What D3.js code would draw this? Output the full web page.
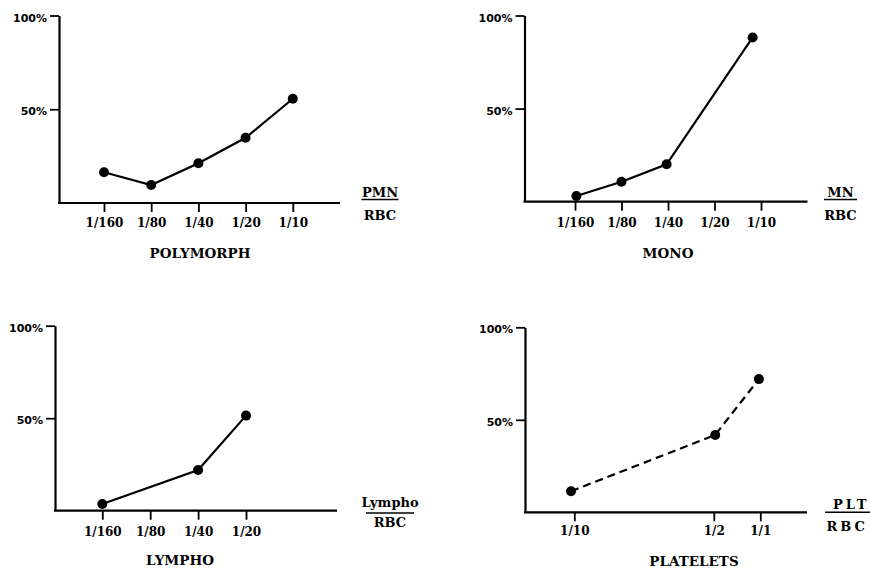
<!DOCTYPE html>
<html>
<head>
<meta charset="utf-8">
<script src="https://cdn.jsdelivr.net/npm/d3@7"></script>
<style>
  html, body { margin: 0; padding: 0; background: #fff; }
  svg text { font-family: "DejaVu Serif", "Liberation Serif", serif; font-weight: bold; fill: #000; }
</style>
</head>
<body>
<svg id="chart" width="870" height="568"></svg>
<script>
// ---- data ----
const yTickValues = [50, 100];
const yTickLabels = ["50%", "100%"];

const polyTicks = ["1/160", "1/80", "1/40", "1/20", "1/10"];
const polyTickPos = [0, 1, 2, 3, 4];
const polyX = [0, 1, 2, 3, 4];
const polyY = [16.4, 9.6, 21.2, 34.8, 55.6];

const monoTicks = ["1/160", "1/80", "1/40", "1/20", "1/10"];
const monoTickPos = [0, 1, 2, 3, 4];
const monoX = [0.03, 1, 1.97, 3.82];
const monoY = [3.1, 10.7, 20.1, 88.2];

const lymphoTicks = ["1/160", "1/80", "1/40", "1/20"];
const lymphoTickPos = [0, 1, 2, 3];
const lymphoX = [0, 2, 3];
const lymphoY = [3.6, 22.0, 51.4];

const pltTicks = ["1/10", "1/2", "1/1"];
const pltTickPos = [0, 3, 4];
const pltX = [-0.07, 3.03, 3.97];
const pltY = [11.4, 41.8, 72.0];

const titles = ["POLYMORPH", "MONO", "LYMPHO", "PLATELETS"];
const numerators = ["PMN", "MN", "Lympho", "PLT"];
const denominator = "RBC";

// ---- layout (positions / styles only) ----
const layout = [
  { axisX: 59,    top: 15.5,  base: 203,   x0: 104,   step: 47.2, axisLen: 281,
    tickLabelY: 227, titleX: 200, titleY: 258, fracX: 380, numY: 197, lineY: 199.5, denY: 219.5, lineHalf: 18.5, spacing: 0, anchor: "middle" },
  { axisX: 524.5, top: 15.5,  base: 201.7, x0: 575,   step: 46.5, axisLen: 283,
    tickLabelY: 227, titleX: 668, titleY: 257.5, fracX: 840.5, numY: 197, lineY: 199.5, denY: 219.5, lineHalf: 16.5, spacing: 0, anchor: "middle" },
  { axisX: 55,    top: 325.7, base: 510.7, x0: 102.3, step: 47.9, axisLen: 282,
    tickLabelY: 536, titleX: 180, titleY: 565, fracX: 390, numY: 506.5, lineY: 513, denY: 526.7, lineHalf: 24, spacing: 0, anchor: "middle" },
  { axisX: 525,   top: 327.3, base: 512.3, x0: 574.3, step: 46.5, axisLen: 282,
    tickLabelY: 535.5, titleX: 694, titleY: 565.5, fracX: 833, numY: 509.3, lineY: 512.3, denY: 530.5, lineHalf: 0, spacing: 3, anchor: "start", lineX1: 825, lineX2: 880, denX: 826.5 }
];

const panels = [
  { ticks: polyTicks, tickPos: polyTickPos, xs: polyX, ys: polyY, dashed: false },
  { ticks: monoTicks, tickPos: monoTickPos, xs: monoX, ys: monoY, dashed: false },
  { ticks: lymphoTicks, tickPos: lymphoTickPos, xs: lymphoX, ys: lymphoY, dashed: false },
  { ticks: pltTicks, tickPos: pltTickPos, xs: pltX, ys: pltY, dashed: true }
];

const svg = d3.select("#chart");

panels.forEach((p, i) => {
  const L = layout[i];
  const g = svg.append("g");

  const x = d3.scaleLinear().domain([0, 1]).range([L.x0, L.x0 + L.step]);
  const y = d3.scaleLinear().domain([0, 100]).range([L.base, L.top]);

  // y axis
  const yAxis = d3.axisLeft(y)
    .tickValues(yTickValues)
    .tickFormat((d, k) => yTickLabels[k])
    .tickSize(9).tickSizeOuter(0).tickPadding(3);
  const ya = g.append("g").attr("transform", `translate(${L.axisX},0)`).call(yAxis);
  ya.select(".domain").attr("stroke", "#000").attr("stroke-width", 2.2);
  ya.selectAll(".tick line").attr("stroke", "#000").attr("stroke-width", 1.8);
  ya.selectAll(".tick text")
    .attr("font-family", null).attr("font-size", 11).attr("dy", "0.5em")
    .style("font-family", "'DejaVu Sans', sans-serif").style("font-weight", "bold");

  // x axis (ticks via d3 axis, baseline drawn as a separate line)
  const xAxis = d3.axisBottom(x)
    .tickValues(p.tickPos)
    .tickFormat((d, k) => p.ticks[k])
    .tickSize(9).tickSizeOuter(0);
  const xa = g.append("g").attr("transform", `translate(0,${L.base})`).call(xAxis);
  xa.select(".domain").remove();
  xa.selectAll(".tick line").attr("stroke", "#000").attr("stroke-width", 1.8);
  xa.selectAll(".tick text")
    .attr("font-family", null).attr("font-size", 12)
    .attr("y", L.tickLabelY - L.base).attr("dy", 0);
  g.append("line")
    .attr("x1", L.axisX - 1).attr("x2", L.axisX + L.axisLen)
    .attr("y1", L.base).attr("y2", L.base)
    .attr("stroke", "#000").attr("stroke-width", 2.2);

  // data line
  const pts = p.xs.map((v, k) => [v, p.ys[k]]);
  const line = d3.line().x(d => x(d[0])).y(d => y(d[1]));
  g.append("path")
    .datum(pts)
    .attr("d", line)
    .attr("fill", "none")
    .attr("stroke", "#000")
    .attr("stroke-width", 2.2)
    .attr("stroke-dasharray", p.dashed ? "8,5" : null);

  g.selectAll("circle.pt")
    .data(pts)
    .join("circle")
    .attr("class", "pt")
    .attr("cx", d => x(d[0]))
    .attr("cy", d => y(d[1]))
    .attr("r", 5)
    .attr("fill", "#000");

  // title
  g.append("text")
    .attr("x", L.titleX).attr("y", L.titleY)
    .attr("text-anchor", "middle")
    .attr("font-size", 13.5)
    .text(titles[i]);

  // fraction label
  g.append("text")
    .attr("x", L.fracX).attr("y", L.numY)
    .attr("text-anchor", L.anchor)
    .attr("font-size", 13)
    .attr("letter-spacing", L.spacing)
    .text(numerators[i]);
  g.append("text")
    .attr("x", L.denX !== undefined ? L.denX : L.fracX).attr("y", L.denY)
    .attr("text-anchor", L.anchor)
    .attr("font-size", 13)
    .attr("letter-spacing", L.spacing)
    .text(denominator);
  g.append("line")
    .attr("x1", L.lineX1 !== undefined ? L.lineX1 : L.fracX - L.lineHalf)
    .attr("x2", L.lineX2 !== undefined ? L.lineX2 : L.fracX + L.lineHalf)
    .attr("y1", L.lineY).attr("y2", L.lineY)
    .attr("stroke", "#000").attr("stroke-width", 1.6);
});
</script>
</body>
</html>
